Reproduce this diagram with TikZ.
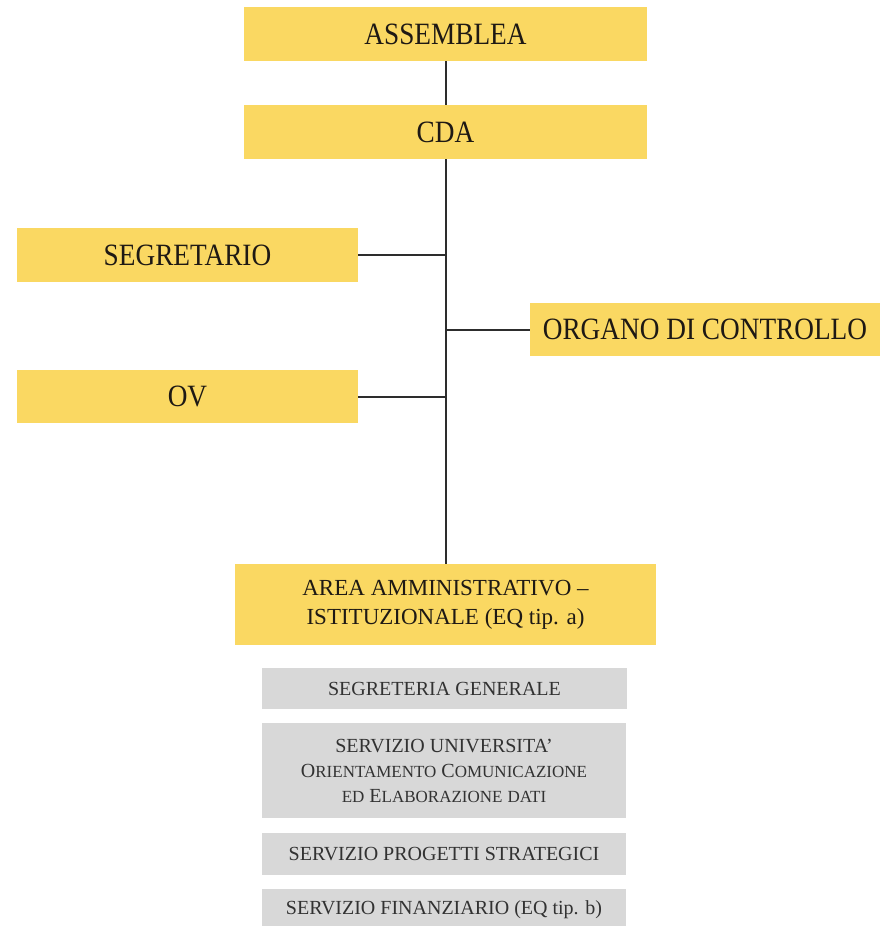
\documentclass[tikz,border=0pt]{standalone}
\usepackage{fontspec}
\setmainfont{Liberation Serif}
\newfontfamily\condfont[FakeStretch=0.88]{Liberation Serif}
\definecolor{boxyellow}{RGB}{250,216,98}
\definecolor{boxgray}{RGB}{216,216,216}
\definecolor{graytext}{RGB}{50,50,50}
\definecolor{darktext}{RGB}{30,25,20}
\definecolor{linecol}{RGB}{45,45,45}
\newcommand{\fsc}[2]{#1{\fontsize{17}{20}\selectfont #2}}
\tikzset{
  ybox/.style={rectangle, fill=boxyellow, inner sep=0pt, text=darktext,
    font=\condfont\fontsize{31}{34}\selectfont},
  gbox/.style={rectangle, fill=boxgray, inner sep=0pt, text=graytext, align=center,
    font=\fontsize{20}{25}\selectfont},
  conn/.style={draw=linecol, line width=2pt}
}
\begin{document}
\begin{tikzpicture}[x=1pt,y=-1pt]
\useasboundingbox (0,0) rectangle (880,926);
\clip (0,0) rectangle (880,926);
\node[ybox, minimum width=403pt, minimum height=54pt] (ass) at (445.5,34) {ASSEMBLEA};
\node[ybox, minimum width=403pt, minimum height=54pt] (cda) at (445.5,132) {CDA};
\node[ybox, minimum width=341pt, minimum height=54pt] (seg) at (187.5,255) {SEGRETARIO};
\node[ybox, minimum width=350pt, minimum height=53pt] (org) at (705,329.5) {ORGANO DI CONTROLLO};
\node[ybox, minimum width=341pt, minimum height=53pt] (ov) at (187.5,396.5) {OV};
\node[ybox, minimum width=421pt, minimum height=81pt, align=center,
  font=\fontsize{23}{29}\selectfont] (area) at (445.5,604.5) {AREA AMMINISTRATIVO –\\ISTITUZIONALE (EQ tip. a)};
\node[gbox, minimum width=365pt, minimum height=41pt] (sg) at (444.5,688.5) {SEGRETERIA GENERALE};
\node[gbox, minimum width=364pt, minimum height=95pt] (su) at (444,770.5)
  {SERVIZIO UNIVERSITA’\\\fsc{O}{RIENTAMENTO} \fsc{C}{OMUNICAZIONE}\\{\fontsize{17}{20}\selectfont ED} \fsc{E}{LABORAZIONE} {\fontsize{17}{20}\selectfont DATI}};
\node[gbox, minimum width=364pt, minimum height=42pt] (sp) at (444,854) {SERVIZIO PROGETTI STRATEGICI};
\node[gbox, minimum width=364pt, minimum height=42pt] (sf) at (444,910) {SERVIZIO FINANZIARIO (EQ tip. b)};
\draw[conn] (ass.south) -- (cda.north);
\draw[conn] (cda.south) -- (area.north);
\draw[conn] (seg.east) -- (seg.east -| cda.south);
\draw[conn] (ov.east) -- (ov.east -| cda.south);
\draw[conn] (org.west) -- (org.west -| cda.south);
\end{tikzpicture}
\end{document}
